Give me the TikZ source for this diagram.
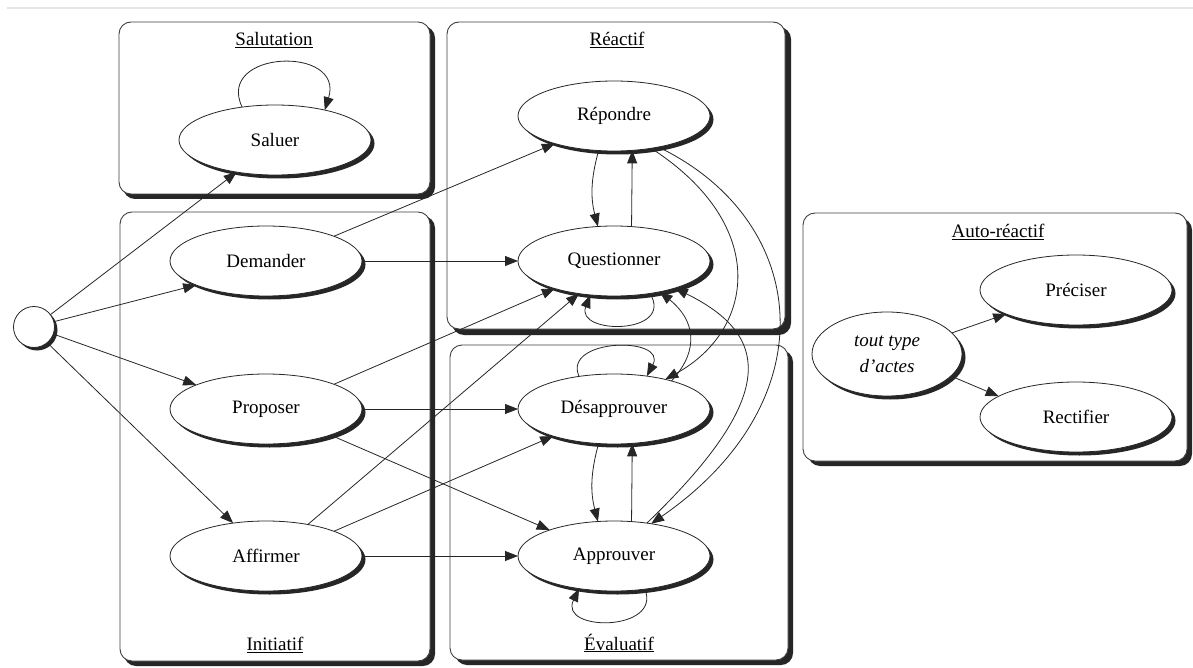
\documentclass[tikz,border=0pt]{standalone}
\usepackage{fontspec}
\setmainfont{Liberation Serif}
\usetikzlibrary{arrows.meta,shapes.geometric,shadows}
\tikzset{
  act/.style={ellipse, draw=black!85, line width=0.8pt, fill=white,
    minimum width=192pt, minimum height=70pt, inner sep=0pt, outer sep=0pt,
    font=\fontsize{19}{22}\selectfont,
    drop shadow={shadow xshift=3.5pt, shadow yshift=-3.5pt, fill=black!85, opacity=1}},
  startnode/.style={circle, draw=black!85, line width=0.8pt, fill=white,
    minimum size=41pt, inner sep=0pt, outer sep=0pt,
    drop shadow={shadow xshift=3pt, shadow yshift=-3pt, fill=black!85, opacity=1}},
  grp/.style={draw=black!75, line width=0.9pt, fill=white, rounded corners=12pt},
  grpshadow/.style={fill=black!85, rounded corners=12pt},
  grptitle/.style={font=\fontsize{19}{22}\selectfont, inner sep=0pt},
  conn/.style={draw=black!85, line width=0.8pt, -{Triangle[length=13pt,width=10pt]}},
}
\begin{document}
\begin{tikzpicture}[x=1pt,y=-1pt]
\useasboundingbox (0,0) rectangle (1193,668);
\fill[white] (0,0) rectangle (1193,668);
\draw[black!10, line width=1.5pt] (7,8) -- (1193,8);

% group boxes
\fill[grpshadow] (123,26) rectangle (435,199);
\draw[grp] (119,22) rectangle (430,194);
\fill[grpshadow] (124,216) rectangle (435,666);
\draw[grp] (120,212) rectangle (430,661);
\fill[grpshadow] (452,27) rectangle (791,335);
\draw[grp] (447,22) rectangle (785,329);
\fill[grpshadow] (455,350) rectangle (793,665);
\draw[grp] (450,345) rectangle (788,660);
\fill[grpshadow] (808,218) rectangle (1192,466);
\draw[grp] (803,213) rectangle (1187,461);

% titles
\node[grptitle] (tsal) at (274,40) {\underline{Salutation}};
\node[grptitle] (treac) at (617,40) {\underline{Réactif}};
\node[grptitle] (tinit) at (275,645) {\underline{Initiatif}};
\node[grptitle] (teval) at (619,643) {\underline{Évaluatif}};
\node[grptitle] (tauto) at (998,232) {\underline{Auto-réactif}};

% nodes
\node[startnode] (start) at (34,327) {};
\node[act] (saluer) at (275,140) {Saluer};
\node[act] (demander) at (266,261) {Demander};
\node[act] (proposer) at (266,409) {Proposer};
\node[act] (affirmer) at (266,556) {Affirmer};
\node[act] (repondre) at (614,116) {Répondre};
\node[act] (questionner) at (614,261) {Questionner};
\node[act] (desapprouver) at (614,409) {Désapprouver};
\node[act] (approuver) at (614,556) {Approuver};
\node[act, minimum width=150pt, minimum height=84pt, align=center,
  font=\fontsize{19}{26}\selectfont\itshape] (tout) at (887,354) {tout type\\d'actes};
\node[act] (preciser) at (1076,290) {Préciser};
\node[act] (rectifier) at (1076,417) {Rectifier};

% connectors from the start
\draw[conn] (start.37) -- (saluer.220);
\draw[conn] (start.15) -- (demander.199);
\draw[conn] (start.340) -- (proposer.161);
\draw[conn] (start.310) -- (affirmer.135);

% initiatif -> others
\draw[conn] (demander.20) -- (repondre.205);
\draw[conn] (demander.east) -- (questionner.west);
\draw[conn] (proposer.20) -- (questionner.205);
\draw[conn] (proposer.east) -- (desapprouver.west);
\draw[conn] (proposer.338) -- (approuver.158);
\draw[conn] (affirmer.37) -- (questionner.223);
\draw[conn] (affirmer.20) -- (desapprouver.204);
\draw[conn] (affirmer.east) -- (approuver.west);

% reactif
\draw[conn] (repondre.246) to[bend right=15] (questionner.115);
\draw[conn] (questionner.63) -- (repondre.298);
\draw[conn] (desapprouver.246) to[bend right=15] (approuver.115);
\draw[conn] (approuver.63) -- (desapprouver.298);

% self loops
\draw[conn] (saluer.135) .. controls (215,50) and (345,45) .. (saluer.31);
\draw[conn] (desapprouver.137) .. controls (562,338) and (668,336) .. (desapprouver.45);
\draw[conn] (questionner.318) .. controls (675,335) and (575,335) .. (questionner.235);
\draw[conn] (approuver.313) .. controls (662,632) and (558,632) .. (approuver.223);

% long curves
\draw[conn] (repondre.319) .. controls (770,225) and (755,330) .. (desapprouver.30);
\draw[conn] (repondre.325) .. controls (810,220) and (830,400) .. (approuver.41);
\draw[conn] (approuver.45) .. controls (780,395) and (770,335) .. (questionner.336);
\draw[conn] (desapprouver.26) .. controls (700,350) and (695,320) .. (questionner.326);

% auto-reactif
\draw[conn] (tout.18) -- (preciser.199);
\draw[conn] (tout.341) -- (rectifier.165);
\end{tikzpicture}
\end{document}
